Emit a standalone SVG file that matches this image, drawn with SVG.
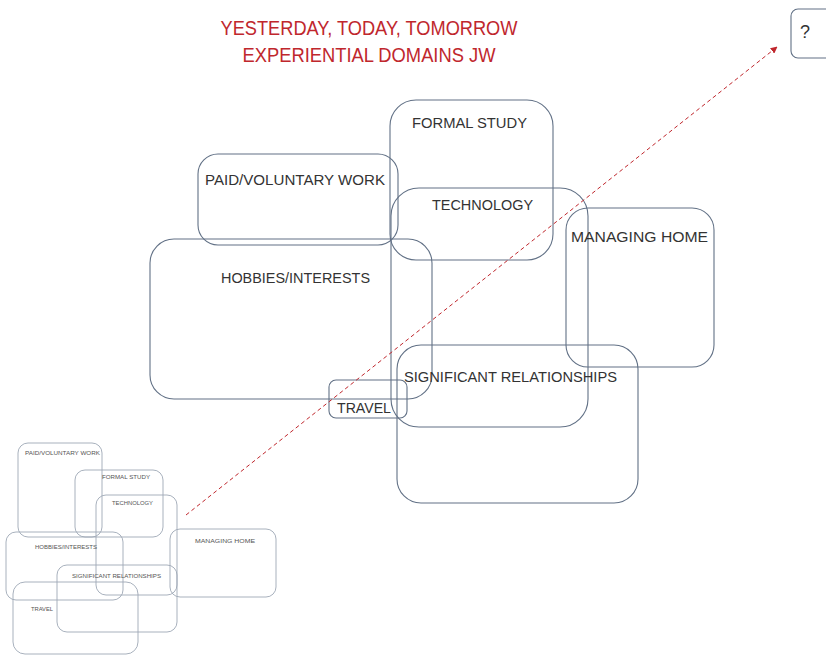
<svg xmlns="http://www.w3.org/2000/svg" width="826" height="656" viewBox="0 0 826 656">
  <style>
    .box { fill: none; stroke: #627186; stroke-width: 1.1; }
    .mini { fill: none; stroke: #9ea8b5; stroke-width: 0.9; }
    .lbl { font-family: "Liberation Sans", Arial, sans-serif; font-size: 14px; fill: #333333; }
    .q { font-family: "Liberation Sans", Arial, sans-serif; font-size: 18px; fill: #333333; }
    .mlbl { font-family: "Liberation Sans", Arial, sans-serif; font-size: 4.6px; fill: #555555; }
    .title { font-family: "Liberation Sans", Arial, sans-serif; font-size: 20px; fill: #c0272d; text-anchor: middle; }
    .flow { fill: none; stroke: #c0272d; stroke-width: 1; stroke-dasharray: 4 3; }
  </style>
  <defs>
    <marker id="head" viewBox="0 0 10 10" refX="9" refY="5" markerWidth="7" markerHeight="7" orient="auto" markerUnits="userSpaceOnUse">
      <path d="M0,0 L10,5 L0,10 Z" fill="#c0272d"/>
    </marker>
  </defs>
  <rect width="826" height="656" fill="#ffffff"/>

  <!-- heading -->
  <g id="title">
    <text class="title" x="369" y="35" textLength="297" lengthAdjust="spacingAndGlyphs">YESTERDAY, TODAY, TOMORROW</text>
    <text class="title" x="369" y="62" textLength="253" lengthAdjust="spacingAndGlyphs">EXPERIENTIAL DOMAINS JW</text>
  </g>

  <!-- present-day domains -->
  <g id="formal-study">
    <rect class="box" x="390" y="100" width="163" height="160" rx="26"/>
    <text class="lbl" x="412" y="128" textLength="115" lengthAdjust="spacingAndGlyphs">FORMAL STUDY</text>
  </g>
  <g id="paid-work">
    <rect class="box" x="198" y="154" width="200" height="91" rx="20"/>
    <text class="lbl" x="205" y="185" textLength="180" lengthAdjust="spacingAndGlyphs">PAID/VOLUNTARY WORK</text>
  </g>
  <g id="technology">
    <rect class="box" x="391" y="188" width="197" height="239" rx="28"/>
    <text class="lbl" x="432" y="210" textLength="101" lengthAdjust="spacingAndGlyphs">TECHNOLOGY</text>
  </g>
  <g id="hobbies">
    <rect class="box" x="150" y="239" width="282" height="160" rx="24"/>
    <text class="lbl" x="221" y="283" textLength="149" lengthAdjust="spacingAndGlyphs">HOBBIES/INTERESTS</text>
  </g>
  <g id="managing-home">
    <rect class="box" x="566" y="208" width="148" height="159" rx="22"/>
    <text class="lbl" x="571" y="242" textLength="137" lengthAdjust="spacingAndGlyphs">MANAGING HOME</text>
  </g>
  <g id="relationships">
    <rect class="box" x="397" y="345" width="241" height="158" rx="24"/>
    <text class="lbl" x="404" y="382" textLength="213" lengthAdjust="spacingAndGlyphs">SIGNIFICANT RELATIONSHIPS</text>
  </g>
  <g id="travel">
    <rect class="box" x="329" y="380" width="78" height="38" rx="7"/>
    <text class="lbl" x="337" y="413" textLength="54" lengthAdjust="spacingAndGlyphs">TRAVEL</text>
  </g>
  <g id="future">
    <rect class="box" x="791" y="9" width="46" height="49" rx="7"/>
    <text class="q" x="800" y="38">?</text>
  </g>

  <!-- earlier domains, drawn small -->
  <g id="past-paid-work">
    <rect class="mini" x="18" y="443" width="84" height="94" rx="10"/>
    <text class="mlbl" x="25" y="455" textLength="75" lengthAdjust="spacingAndGlyphs">PAID/VOLUNTARY WORK</text>
  </g>
  <g id="past-formal-study">
    <rect class="mini" x="75" y="470" width="88" height="67" rx="10"/>
    <text class="mlbl" x="102" y="479" textLength="48" lengthAdjust="spacingAndGlyphs">FORMAL STUDY</text>
  </g>
  <g id="past-technology">
    <rect class="mini" x="96" y="495" width="81" height="100" rx="10"/>
    <text class="mlbl" x="112" y="505" textLength="41" lengthAdjust="spacingAndGlyphs">TECHNOLOGY</text>
  </g>
  <g id="past-hobbies">
    <rect class="mini" x="6" y="532" width="117" height="68" rx="10"/>
    <text class="mlbl" x="35" y="549" textLength="62" lengthAdjust="spacingAndGlyphs">HOBBIES/INTERESTS</text>
  </g>
  <g id="past-managing-home">
    <rect class="mini" x="170" y="529" width="106" height="68" rx="10"/>
    <text class="mlbl" x="195" y="543" textLength="60" lengthAdjust="spacingAndGlyphs">MANAGING HOME</text>
  </g>
  <g id="past-relationships">
    <rect class="mini" x="57" y="565" width="120" height="67" rx="10"/>
    <text class="mlbl" x="72" y="578" textLength="89" lengthAdjust="spacingAndGlyphs">SIGNIFICANT RELATIONSHIPS</text>
  </g>
  <g id="past-travel">
    <rect class="mini" x="13" y="582" width="125" height="72" rx="12"/>
    <text class="mlbl" x="31" y="611" textLength="22" lengthAdjust="spacingAndGlyphs">TRAVEL</text>
  </g>

  <!-- progression through time -->
  <g id="connectors">
    <line class="flow" x1="186" y1="515" x2="777" y2="47" marker-end="url(#head)"/>
  </g>
</svg>
